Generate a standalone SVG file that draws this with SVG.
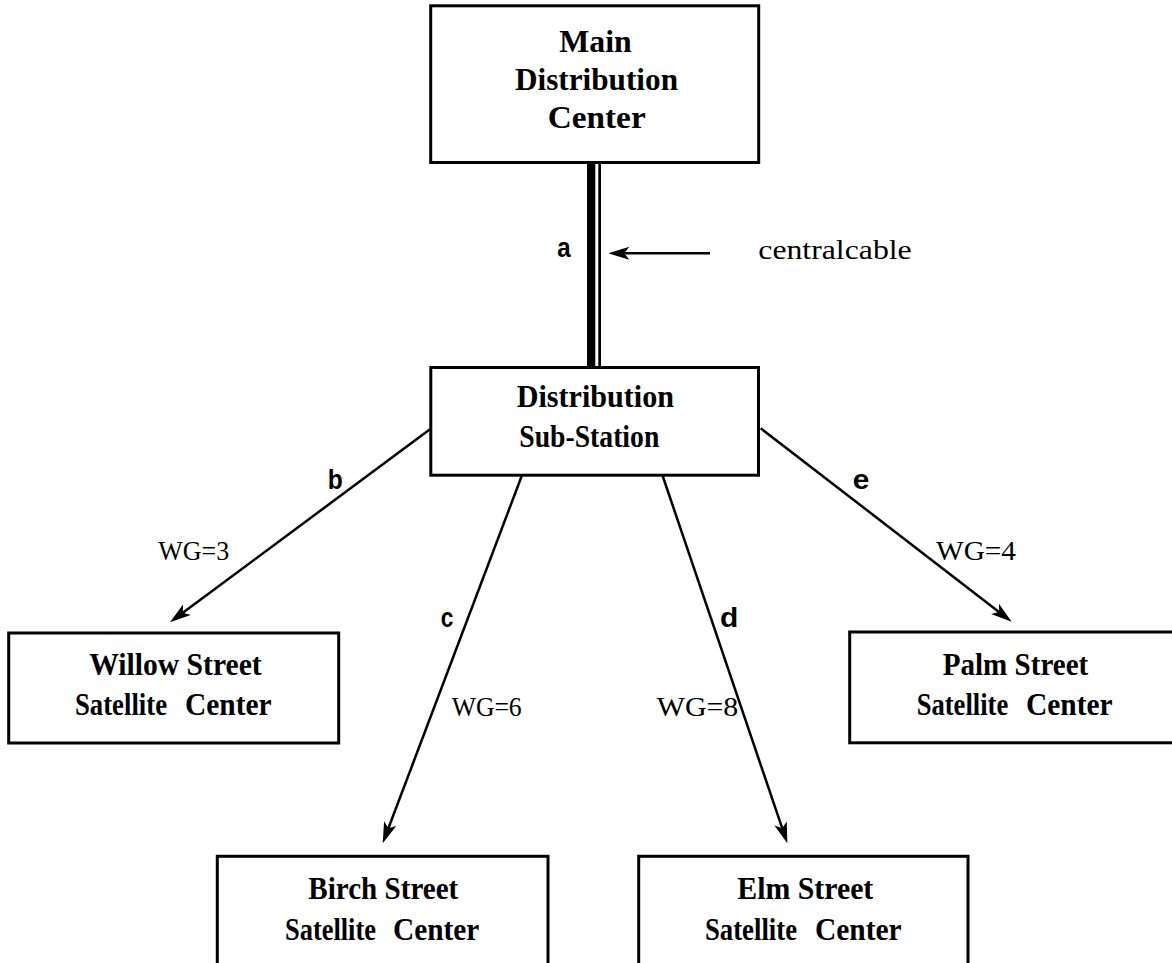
<svg xmlns="http://www.w3.org/2000/svg" width="1172" height="963" viewBox="0 0 1172 963">
<style>
.box{fill:#fff;stroke:#000;stroke-width:3}
.nt{font-family:"Liberation Serif","Times New Roman",serif;font-weight:bold;font-size:31px;fill:#000}
.wg{font-family:"Liberation Serif","Times New Roman",serif;font-size:28px;fill:#000}
.lt{font-family:"Liberation Sans",Arial,sans-serif;font-weight:bold;font-size:28px;fill:#000}
.ln{fill:none;stroke:#000;stroke-width:2.5;marker-end:url(#ah)}
</style>
<defs>
<marker id="ah" markerUnits="userSpaceOnUse" viewBox="-6 -7 23 14" markerWidth="23" markerHeight="14" refX="0" refY="0" orient="auto">
<path d="M16,0 L-5,-6.5 L0,0 L-5,6.5 Z" fill="#000"/>
</marker>
</defs>
<rect width="1172" height="963" fill="#fff"/>
<g id="connectors">
<rect x="587" y="163" width="8.3" height="204" fill="#000"/>
<rect x="598.3" y="163" width="2.7" height="204" fill="#000"/>
<line class="ln" x1="710" y1="253.3" x2="624.3" y2="253.3"/>
<line class="ln" x1="430" y1="429.3" x2="182.85" y2="612.76"/>
<line class="ln" x1="521.7" y1="476" x2="388.4" y2="828.3"/>
<line class="ln" x1="662.7" y1="476" x2="782.2" y2="828.2"/>
<line class="ln" x1="760.7" y1="428.3" x2="999" y2="611.9"/>
<text class="lt" x="557.3" y="256.7" textLength="13.4" lengthAdjust="spacingAndGlyphs">a</text>
<text class="lt" x="327.7" y="489.3" textLength="15" lengthAdjust="spacingAndGlyphs">b</text>
<text class="lt" x="440.7" y="626.7" textLength="12.6" lengthAdjust="spacingAndGlyphs">c</text>
<text class="lt" x="720" y="626.7" textLength="18.3" lengthAdjust="spacingAndGlyphs">d</text>
<text class="lt" x="852.7" y="489.3" textLength="16.6" lengthAdjust="spacingAndGlyphs">e</text>
<text class="wg" x="758.3" y="259.3" textLength="153.4" lengthAdjust="spacingAndGlyphs">centralcable</text>
<text class="wg" x="158.3" y="560" textLength="71" lengthAdjust="spacingAndGlyphs">WG=3</text>
<text class="wg" x="451.7" y="716" textLength="70" lengthAdjust="spacingAndGlyphs">WG=6</text>
<text class="wg" x="656.7" y="716" textLength="81.6" lengthAdjust="spacingAndGlyphs">WG=8</text>
<text class="wg" x="936" y="560" textLength="80" lengthAdjust="spacingAndGlyphs">WG=4</text>
</g>
<g id="main">
<rect class="box" x="430.7" y="5.8" width="328" height="156.7"/>
<text class="nt" x="559.3" y="52" textLength="72.4" lengthAdjust="spacingAndGlyphs">Main</text>
<text class="nt" x="515" y="90" textLength="163" lengthAdjust="spacingAndGlyphs">Distribution</text>
<text class="nt" x="547.7" y="128" textLength="98" lengthAdjust="spacingAndGlyphs">Center</text>
</g>
<g id="substation">
<rect class="box" x="430.8" y="367.5" width="327.7" height="107.7"/>
<text class="nt" x="516.7" y="407" textLength="157.3" lengthAdjust="spacingAndGlyphs">Distribution</text>
<text class="nt" x="519.3" y="446.7" textLength="140" lengthAdjust="spacingAndGlyphs">Sub-Station</text>
</g>
<g id="willow">
<rect class="box" x="8.7" y="633" width="330" height="110"/>
<text class="nt" x="89.3" y="675" textLength="172.4" lengthAdjust="spacingAndGlyphs">Willow Street</text>
<text class="nt" y="715"><tspan x="75" textLength="92" lengthAdjust="spacingAndGlyphs">Satellite</tspan><tspan x="185" textLength="86.7" lengthAdjust="spacingAndGlyphs">Center</tspan></text>
</g>
<g id="palm">
<rect class="box" x="849.7" y="632" width="330" height="110.8"/>
<text class="nt" x="942.7" y="675" textLength="145.6" lengthAdjust="spacingAndGlyphs">Palm Street</text>
<text class="nt" y="715"><tspan x="916.7" textLength="91.5" lengthAdjust="spacingAndGlyphs">Satellite</tspan><tspan x="1026" textLength="86.7" lengthAdjust="spacingAndGlyphs">Center</tspan></text>
</g>
<g id="birch">
<rect class="box" x="217.3" y="856.3" width="330.7" height="120"/>
<text class="nt" x="308.3" y="899.3" textLength="150" lengthAdjust="spacingAndGlyphs">Birch Street</text>
<text class="nt" y="940"><tspan x="285" textLength="91" lengthAdjust="spacingAndGlyphs">Satellite</tspan><tspan x="393" textLength="86.3" lengthAdjust="spacingAndGlyphs">Center</tspan></text>
</g>
<g id="elm">
<rect class="box" x="638.7" y="856.3" width="329.3" height="120"/>
<text class="nt" x="737.3" y="899.3" textLength="136" lengthAdjust="spacingAndGlyphs">Elm Street</text>
<text class="nt" y="940"><tspan x="705" textLength="92" lengthAdjust="spacingAndGlyphs">Satellite</tspan><tspan x="815" textLength="86.7" lengthAdjust="spacingAndGlyphs">Center</tspan></text>
</g>
</svg>
